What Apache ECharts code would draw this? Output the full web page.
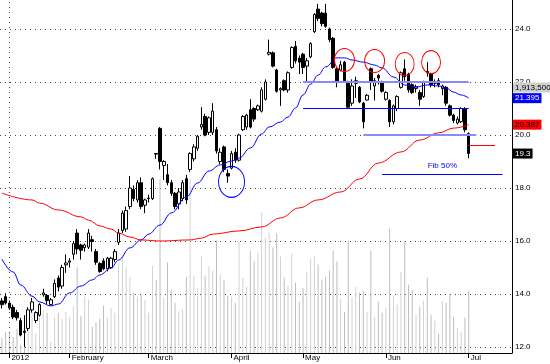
<!DOCTYPE html>
<html><head><meta charset="utf-8">
<script src="https://cdn.jsdelivr.net/npm/echarts@6/dist/echarts.min.js"></script>
<style>html,body{margin:0;padding:0;background:#fff}#c{width:550px;height:364px}</style>
</head><body><div id="c"></div>
<script>
// ---- data ----
const opens  = [13.74,13.90,13.66,13.50,13.30,13.00,12.60,12.70,13.40,13.00,13.20,13.97,13.95,13.60,13.90,14.60,14.30,15.10,15.20,15.50,16.30,15.85,15.75,15.77,16.05,15.60,15.15,15.25,14.95,15.00,15.30,15.95,16.40,16.45,17.30,17.95,17.55,18.20,17.35,17.60,17.60,19.30,20.25,18.85,18.50,18.20,17.80,17.40,17.60,18.35,18.70,19.10,19.50,20.30,20.70,20.10,20.10,20.20,19.00,19.55,18.55,18.75,19.35,19.05,20.20,20.30,20.95,21.00,20.95,20.90,21.35,23.05,23.10,22.45,21.70,22.05,21.70,22.55,23.35,22.90,23.05,22.60,22.95,23.90,24.75,24.60,24.60,24.00,23.65,22.50,22.45,22.75,21.95,21.20,21.95,21.80,21.20,21.32,22.50,21.85,22.25,22.00,21.35,21.30,20.50,21.00,21.80,22.50,22.30,21.90,21.75,21.60,21.45,22.40,22.30,21.95,22.05,21.75,21.80,21.10,20.75,20.45,20.50,21.00,20.05];
const closes = [13.60,13.66,13.47,13.13,13.10,12.45,12.55,13.40,13.70,13.30,13.60,14.04,13.75,13.78,14.40,14.26,15.00,15.17,15.25,15.90,15.70,15.65,15.85,16.30,15.98,15.20,14.85,14.95,15.35,15.35,15.60,16.30,17.05,17.15,18.00,17.60,18.20,17.30,17.55,17.62,18.35,19.28,19.00,19.00,18.20,17.80,17.30,17.85,18.20,17.55,19.30,19.55,19.95,20.40,20.00,20.65,20.90,19.40,19.35,18.70,18.45,19.30,19.05,20.00,20.70,20.75,20.30,20.60,21.10,21.70,22.00,23.12,22.60,21.65,21.75,21.70,22.35,23.30,22.80,22.75,22.55,22.80,23.45,24.55,24.40,24.20,24.10,23.60,22.55,22.00,22.65,22.05,21.05,21.85,22.05,21.25,20.50,21.50,22.00,22.05,22.15,21.65,21.60,20.50,21.10,21.45,22.35,22.20,21.70,21.60,21.82,21.35,22.00,22.35,21.90,22.00,21.90,21.85,21.20,20.75,20.55,20.60,21.00,20.20,19.30];
const lows   = [13.45,13.60,13.40,13.05,13.00,12.40,12.00,12.60,13.30,12.90,13.15,13.90,13.60,13.55,13.85,14.10,14.20,14.80,15.00,15.30,15.50,15.30,15.60,15.70,15.60,15.10,14.80,14.90,14.85,14.95,15.20,15.85,16.30,16.35,17.20,17.50,17.45,17.20,17.05,17.45,17.55,19.10,18.70,18.30,18.10,17.70,17.20,17.20,17.50,17.40,18.60,19.00,19.40,20.20,19.95,20.00,20.00,19.30,18.90,18.60,18.20,18.70,18.95,19.00,20.15,20.20,20.25,20.50,20.90,20.85,21.30,23.00,22.55,21.60,21.10,21.65,21.60,22.50,22.70,22.30,22.30,22.00,22.90,23.85,24.30,24.10,24.05,23.50,22.50,21.80,22.40,22.00,21.00,21.10,21.40,21.20,20.25,21.30,21.70,21.30,21.90,21.60,21.30,20.30,20.40,20.90,21.75,22.05,21.60,21.55,21.60,21.10,21.40,22.20,21.80,21.80,21.80,21.50,21.10,20.70,20.45,20.40,20.45,20.10,19.12];
const highs  = [13.85,14.03,13.75,13.60,13.40,13.10,13.20,13.50,13.85,13.35,13.65,14.20,14.00,13.85,14.55,14.70,15.10,15.50,15.35,16.00,16.45,15.90,15.90,16.45,16.20,15.70,15.20,15.35,15.40,15.40,15.70,16.45,17.15,17.30,18.45,18.10,18.30,18.40,17.60,17.75,18.40,19.32,20.30,19.05,18.90,18.30,17.85,18.00,18.30,18.50,19.35,19.65,20.00,21.05,20.80,20.70,21.20,20.30,19.50,19.60,18.70,19.40,19.50,20.05,20.75,20.80,21.35,21.05,21.15,21.80,22.10,23.60,23.15,22.50,21.80,22.10,22.40,23.35,23.55,23.00,23.10,22.90,23.50,24.60,24.95,24.65,24.95,24.05,23.70,22.55,22.80,22.80,22.05,22.10,22.20,21.85,21.25,21.55,22.55,22.15,22.30,22.05,21.65,21.35,21.15,21.50,22.40,22.85,22.35,21.95,21.90,21.70,22.05,22.75,22.35,22.10,22.15,21.90,21.85,21.15,20.80,20.70,21.05,21.05,20.10];
const volumes = [465,651,620,496,744,248,775,1116,1271,620,1116,1333,1240,341,1116,1240,1054,1271,1116,1426,2635,1147,1736,1643,806,930,1054,1457,1085,1395,1240,2790,3007,2635,2356,1860,1736,1798,1643,1240,2697,2263,5363,1705,2790,1953,1550,1271,1364,2356,5363,2387,2015,3007,2387,2666,2542,3472,2418,2263,1767,1736,1550,3441,2325,2046,3162,2821,3100,4340,3565,3720,3255,3689,2976,2325,2077,3069,2170,1581,2015,2511,2914,2976,2728,2263,2356,2542,3162,2821,1674,1271,3472,1705,2046,1860,1922,1271,3162,1116,1581,1240,1395,3844,1767,1488,2511,3441,2108,1953,1178,1426,1612,2325,1178,992,589,1612,1550,1829,1116,775,651,1085,1913.5]; // thousands
const monthIdx    = [2,18,39,61,80,102,124];
const monthLabels = ['2012','February','March','April','May','Jun','Jul'];
const maBlueIdx = [0,3,5,8,10,13,15,18,21,24,26,29,31,34,37,39,42,45,49,52,55,58,61,63,66,69,71,74,76,78,80,82,84,86,89,91,93,96,99,101,104,107,110,113,116,118,120,122,124];
const maBlueVal = [15.32,14.83,14.34,13.92,13.70,13.55,13.62,14.04,14.30,14.53,14.72,14.98,15.28,15.74,16.04,16.26,16.60,17.06,17.66,18.19,18.64,18.87,19.02,19.13,19.51,20.04,20.30,20.49,20.68,21.02,21.51,21.92,22.26,22.57,22.91,22.91,22.83,22.75,22.64,22.53,22.19,21.89,21.81,21.89,21.85,21.77,21.62,21.51,21.395];
const maRedIdx = [0,8,10,15,21,23,26,29,31,34,37,42,50,53,56,63,69,74,79,84,90,95,100,106,111,116,120,124];
const maRedVal = [17.81,17.55,17.43,17.17,16.91,16.79,16.57,16.45,16.30,16.15,16.04,16.00,16.04,16.11,16.26,16.38,16.53,16.87,17.25,17.55,17.85,18.34,18.94,19.36,19.81,20.08,20.26,20.387];
const yTickMin = 10, yTickMax = 26, yTickStep = 2;
const volMax = 10894;
// annotations (data coordinates: [candle index, price])
const hLines = [
  {from:80, to:124, price:22.0, color:'#8a8aff', width:2},
  {from:80, to:124, price:21.02, color:'#0000ff', width:1},
  {from:96, to:126, price:20.0, color:'#8a8aff', width:2},
  {from:101, to:133, price:18.53, color:'#0000ff', width:1, text:'Fib 50%'},
  {from:124, to:131, price:19.6, color:'#ff0000', width:1}
];
const circles = [
  {idx:61, price:18.23, w:26, h:31, color:'#0000ff'},
  {idx:91, price:22.83, w:20, h:23, color:'#ff0000'},
  {idx:99, price:22.79, w:20, h:23, color:'#ff0000'},
  {idx:107, price:22.68, w:19, h:23, color:'#ff0000'},
  {idx:114, price:22.75, w:19, h:23, color:'#ff0000'}
];
const tags = [
  {price:21.79, text:'1,913,500', bg:'#cfcfcf', fg:'#000'},
  {price:21.395, text:'21.395', bg:'#0000ff', fg:'#fff'},
  {price:20.387, text:'20.387', bg:'#ff0000', fg:'#000'},
  {price:19.3, text:'19.3', bg:'#000000', fg:'#fff'}
];
const nCats = 136;

// ---- build ----
const FONT = 'Liberation Sans, Arial, sans-serif';
const cats = Array.from({length:nCats}, (_, i) => 'd' + i);
const candle = opens.map((o, i) => [o, closes[i], lows[i], highs[i]]);
const vol = volumes.map((v, i) => ({value: v, itemStyle: {color: closes[i] >= opens[i] ? '#d2d2d2' : '#bcbcbc'}}));
const isMonth = (i) => monthIdx.indexOf(i) >= 0;

const markLines = hLines.map(h => [
  {coord:[h.from, h.price], lineStyle:{color:h.color, width:h.width, type:'solid'},
   label: h.text ? {show:true, formatter:h.text, position:'insideMiddleTop', color:'#0000ff', fontSize:8, fontFamily:FONT, distance:4} : {show:false}},
  {coord:[h.to, h.price], lineStyle:{color:h.color, width:h.width, type:'solid'}}
]).concat(tags.map(t => ({
  yAxis: t.price,
  lineStyle: {color:'rgba(0,0,0,0)', width:0},
  label: {show:true, position:'end', distance:1, formatter:t.text, backgroundColor:t.bg, color:t.fg,
          fontSize:8, fontFamily:FONT, padding:[1,2,0,2], lineHeight:9}
})));

const markPoints = circles.map(c => ({
  coord:[c.idx, c.price], symbol:'circle', symbolSize:[c.w, c.h],
  itemStyle:{color:'rgba(0,0,0,0)', borderColor:c.color, borderWidth:1},
  label:{show:false}
}));

const chart = echarts.init(document.getElementById('c'), null, {renderer:'canvas'});
chart.setOption({
  animation:false,
  backgroundColor:'#fff',
  grid:[
    {left:0, right:38, top:-24, bottom:-36, outerBoundsMode:'none', containLabel:false},
    {left:0, right:38, top:0, bottom:11, outerBoundsMode:'none', containLabel:false}
  ],
  xAxis:[
    {type:'category', gridIndex:0, data:cats, show:false, boundaryGap:true},
    {type:'category', gridIndex:1, data:cats, boundaryGap:true,
     axisLine:{show:true, lineStyle:{color:'#000', width:1}},
     axisTick:{show:true, alignWithLabel:true, interval:(i)=>isMonth(i), length:5, lineStyle:{color:'#000'}},
     axisLabel:{show:true, interval:(i)=>isMonth(i), align:'left', margin:1, padding:[0,0,0,2],
       formatter:(v, i)=>{const k=monthIdx.indexOf(i); return k>=0?monthLabels[k]:'';},
       color:'#000', fontSize:8, fontFamily:FONT},
     splitLine:{show:false}}
  ],
  yAxis:[
    {type:'value', gridIndex:0, position:'right', min:yTickMin, max:yTickMax, interval:yTickStep,
     axisLine:{show:false}, axisTick:{show:false},
     axisLabel:{show:true, margin:3, color:'#000', fontSize:8, fontFamily:FONT, formatter:(v)=>v.toFixed(1)},
     splitLine:{show:true, lineStyle:{color:'#444', type:[1,4], width:1}}},
    {type:'value', gridIndex:1, position:'right', min:0, max:volMax,
     axisLine:{show:true, lineStyle:{color:'#000', width:1}}, axisTick:{show:false},
     axisLabel:{show:false}, splitLine:{show:false}}
  ],
  series:[
    {type:'bar', xAxisIndex:1, yAxisIndex:1, data:vol, barWidth:1, z:1, silent:true,
     markLine:{silent:true, symbol:['none','none'], label:{show:false},
       data:[{xAxis:monthIdx[0], lineStyle:{color:'#444', type:[1,4], width:1}}]}},
    {type:'candlestick', xAxisIndex:0, yAxisIndex:0, data:candle, barWidth:3, z:3, clip:false,
     itemStyle:{color:'#ffffff', color0:'#000000', borderColor:'#000000', borderColor0:'#000000', borderWidth:1},
     markLine:{silent:true, symbol:['none','none'], z:10, data:markLines},
     markPoint:{silent:true, z:10, data:markPoints}},
    {type:'line', xAxisIndex:0, yAxisIndex:0, data:maBlueIdx.map((x,i)=>[x, maBlueVal[i]]),
     showSymbol:false, smooth:0.4, smoothMonotone:'x', lineStyle:{color:'#0000ff', width:1}, z:4},
    {type:'line', xAxisIndex:0, yAxisIndex:0, data:maRedIdx.map((x,i)=>[x, maRedVal[i]]),
     showSymbol:false, smooth:0.4, smoothMonotone:'x', lineStyle:{color:'#ff0000', width:1}, z:4}
  ]
});
</script></body></html>
